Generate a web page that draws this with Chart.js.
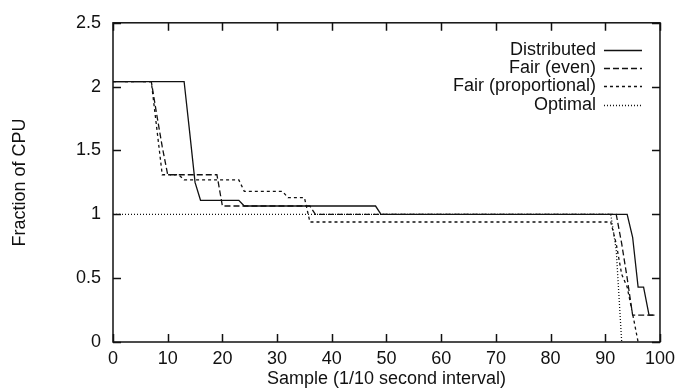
<!DOCTYPE html>
<html>
<head>
<meta charset="utf-8">
<script src="https://cdn.jsdelivr.net/npm/chart.js@4"></script>
<style>
  html, body { margin: 0; padding: 0; background: #fff; }
  #wrap { width: 681px; height: 390px; }
</style>
</head>
<body>
<div id="wrap"><canvas id="cpuChart" width="681" height="390"></canvas></div>
<script>
// breakpoints of each series: sample index and fraction of CPU
const distributedX = [0, 13, 14, 15, 16, 23, 24, 48, 49, 94, 95, 96, 97, 98, 99];
const distributedY = [2.04, 2.04, 1.65, 1.25, 1.11, 1.11, 1.065, 1.065, 1.0, 1.0, 0.82, 0.43, 0.43, 0.21, 0.21];

const fairEvenX = [0, 7, 8, 9, 10, 19, 20, 36, 37, 92, 93, 94, 95, 99];
const fairEvenY = [2.04, 2.04, 1.78, 1.53, 1.31, 1.31, 1.065, 1.065, 1.0, 1.0, 0.77, 0.5, 0.21, 0.21];

const fairPropX = [0, 7, 9, 12, 13, 23, 24, 31, 32, 35, 36, 91, 92, 93, 94, 95, 96];
const fairPropY = [2.04, 2.04, 1.31, 1.31, 1.27, 1.27, 1.18, 1.18, 1.13, 1.13, 0.94, 0.94, 0.77, 0.53, 0.43, 0.22, 0];

const optimalX = [0, 91, 92, 93];
const optimalY = [1.0, 1.0, 0.72, 0];

const xTickLabels = ['0', '10', '20', '30', '40', '50', '60', '70', '80', '90', '100'];
const yTickLabels = ['0', '0.5', '1', '1.5', '2', '2.5'];

const FONT = "'Liberation Sans', Arial, Helvetica, sans-serif";
const INK = '#111';

function pts(xs, ys) {
  return xs.map((x, i) => ({ x: x, y: ys[i] }));
}

// box around the plot with inward ticks on all four sides
const frameTicks = {
  id: 'frameTicks',
  afterDatasetsDraw(chart) {
    const { ctx, chartArea: a, scales: { x, y } } = chart;
    ctx.save();
    ctx.strokeStyle = INK;
    ctx.lineWidth = 1.5;
    ctx.strokeRect(a.left, a.top, a.right - a.left, a.bottom - a.top);
    ctx.beginPath();
    x.ticks.forEach(t => {
      const px = Math.round(x.getPixelForValue(t.value)) + 0.5;
      ctx.moveTo(px, a.bottom); ctx.lineTo(px, a.bottom - 8);
      ctx.moveTo(px, a.top); ctx.lineTo(px, a.top + 8);
    });
    y.ticks.forEach(t => {
      const py = Math.round(y.getPixelForValue(t.value)) + 0.5;
      ctx.moveTo(a.left, py); ctx.lineTo(a.left + 8, py);
      ctx.moveTo(a.right, py); ctx.lineTo(a.right - 8, py);
    });
    ctx.stroke();
    ctx.restore();
  }
};

// gnuplot style key: label right aligned, line sample after it
const keyBox = {
  id: 'keyBox',
  afterDatasetsDraw(chart) {
    const ctx = chart.ctx;
    const a = chart.chartArea;
    const textRight = a.right - 64;
    const lineFrom = a.right - 56;
    const lineTo = a.right - 18;
    ctx.save();
    ctx.font = '18px ' + FONT;
    ctx.fillStyle = INK;
    ctx.textAlign = 'right';
    ctx.textBaseline = 'middle';
    chart.data.datasets.forEach((ds, i) => {
      const yy = a.top + 27 + i * 18.3;
      ctx.fillText(ds.label, textRight, yy);
      ctx.beginPath();
      ctx.setLineDash(ds.borderDash || []);
      ctx.strokeStyle = ds.borderColor;
      ctx.lineWidth = ds.borderWidth;
      ctx.moveTo(lineFrom, Math.round(yy) + 0.5);
      ctx.lineTo(lineTo, Math.round(yy) + 0.5);
      ctx.stroke();
    });
    ctx.restore();
  }
};

const lineStyle = { borderColor: INK, borderWidth: 1.3, pointRadius: 0, tension: 0, fill: false };

new Chart(document.getElementById('cpuChart').getContext('2d'), {
  type: 'line',
  data: {
    datasets: [
      Object.assign({ label: 'Distributed', data: pts(distributedX, distributedY), borderDash: [] }, lineStyle),
      Object.assign({ label: 'Fair (even)', data: pts(fairEvenX, fairEvenY), borderDash: [6, 3] }, lineStyle),
      Object.assign({ label: 'Fair (proportional)', data: pts(fairPropX, fairPropY), borderDash: [3, 3] }, lineStyle),
      Object.assign({ label: 'Optimal', data: pts(optimalX, optimalY), borderDash: [1, 2] }, lineStyle)
    ]
  },
  options: {
    responsive: false,
    animation: false,
    layout: { padding: { top: 17, right: 18, left: 0, bottom: 0 } },
    plugins: {
      legend: { display: false },
      tooltip: { enabled: false }
    },
    scales: {
      x: {
        type: 'linear',
        min: 0,
        max: 100,
        afterFit: s => { s.height = 48; },
        grid: { display: false, drawTicks: false },
        border: { display: false },
        ticks: {
          stepSize: 10,
          padding: 6,
          maxRotation: 0,
          color: INK,
          font: { family: FONT, size: 18 },
          callback: (v, i) => xTickLabels[i]
        },
        title: {
          display: true,
          text: 'Sample (1/10 second interval)',
          color: INK,
          font: { family: FONT, size: 18 },
          padding: { top: 0, bottom: 0 }
        }
      },
      y: {
        min: 0,
        max: 2.5,
        afterFit: s => { s.width = 113; },
        grid: { display: false, drawTicks: false },
        border: { display: false },
        ticks: {
          stepSize: 0.5,
          padding: 12,
          color: INK,
          font: { family: FONT, size: 18 },
          callback: (v, i) => yTickLabels[i]
        },
        title: {
          display: true,
          text: 'Fraction of CPU',
          color: INK,
          font: { family: FONT, size: 18 },
          padding: { top: 9, bottom: 0 }
        }
      }
    }
  },
  plugins: [frameTicks, keyBox]
});
</script>
</body>
</html>
